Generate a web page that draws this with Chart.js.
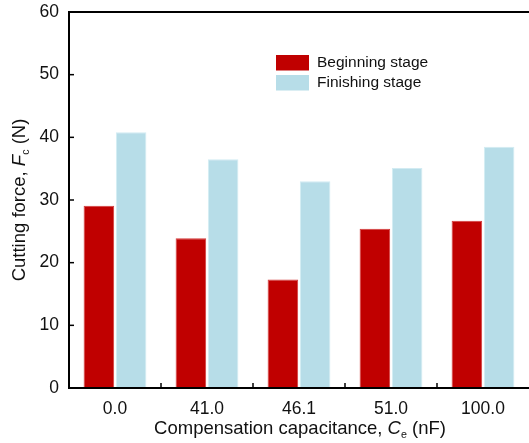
<!DOCTYPE html>
<html>
<head>
<meta charset="utf-8">
<script src="https://cdn.jsdelivr.net/npm/chart.js@4"></script>
<style>
html,body{margin:0;padding:0;background:#fff;}
#wrap{width:529px;height:443px;position:relative;}
</style>
</head>
<body>
<div id="wrap"><canvas id="c" width="529" height="443"></canvas></div>
<script>
const categories = ["0.0", "41.0", "46.1", "51.0", "100.0"];
const beginningStage = [29.1, 23.9, 17.3, 25.4, 26.7];
const finishingStage = [40.8, 36.5, 33.0, 35.1, 38.5];
const yTicks = [0, 10, 20, 30, 40, 50, 60];
const seriesNames = ["Beginning stage", "Finishing stage"];

const FONT = '"Liberation Sans", Arial, sans-serif';

function drawRich(ctx, parts, x, y, size) {
  let total = 0;
  const meas = parts.map(p => {
    const s = p.sub ? size * 0.58 : size;
    ctx.font = (p.italic ? 'italic ' : '') + s + 'px ' + FONT;
    const w = ctx.measureText(p.t).width;
    total += w;
    return {p, s, w};
  });
  let cx = x - total / 2;
  ctx.textBaseline = 'middle';
  ctx.textAlign = 'left';
  meas.forEach(m => {
    ctx.font = (m.p.italic ? 'italic ' : '') + m.s + 'px ' + FONT;
    ctx.fillText(m.p.t, cx, y + (m.p.sub ? size * 0.3 : 0));
    cx += m.w;
  });
}

const decor = {
  id: 'decor',
  afterDraw(chart) {
    const ctx = chart.ctx;
    const ca = chart.chartArea;
    const xs = chart.scales.x, ys = chart.scales.y;
    ctx.save();
    ctx.strokeStyle = '#000';
    ctx.fillStyle = '#000';
    ctx.lineWidth = 2;
    ctx.beginPath();
    ctx.moveTo(ca.right + 2, ca.top);
    ctx.lineTo(ca.left, ca.top);
    ctx.lineTo(ca.left, ca.bottom);
    ctx.lineTo(ca.right + 2, ca.bottom);
    ctx.stroke();
    ctx.lineWidth = 1.5;
    ys.ticks.forEach(t => {
      const py = ys.getPixelForValue(t.value);
      ctx.beginPath();
      ctx.moveTo(ca.left, py);
      ctx.lineTo(ca.left + 5, py);
      ctx.stroke();
    });
    for (let i = 1; i < categories.length; i++) {
      const px = (xs.getPixelForValue(i - 1) + xs.getPixelForValue(i)) / 2;
      ctx.beginPath();
      ctx.moveTo(px, ca.bottom);
      ctx.lineTo(px, ca.bottom - 5);
      ctx.stroke();
    }
    ctx.fillStyle = '#111';
    drawRich(ctx, [
      {t: 'Compensation capacitance, '},
      {t: 'C', italic: true},
      {t: 'e', sub: true},
      {t: ' (nF)'}
    ], 300, 429, 18.5);
    ctx.save();
    ctx.translate(20, 200);
    ctx.rotate(-Math.PI / 2);
    drawRich(ctx, [
      {t: 'Cutting force, '},
      {t: 'F', italic: true},
      {t: 'c', sub: true},
      {t: ' (N)'}
    ], 0, 0, 18.5);
    ctx.restore();
    const lx = 276, ly = 55;
    chart.data.datasets.forEach((ds, i) => {
      const yy = ly + i * 20;
      ctx.fillStyle = ds.backgroundColor;
      ctx.fillRect(lx, yy, 33, 15.5);
      ctx.fillStyle = '#111';
      ctx.font = '15.5px ' + FONT;
      ctx.textBaseline = 'middle';
      ctx.textAlign = 'left';
      ctx.fillText(ds.label, lx + 41, yy + 8);
    });
    ctx.restore();
  }
};

new Chart(document.getElementById('c'), {
  type: 'bar',
  data: {
    labels: categories,
    datasets: [
      {label: seriesNames[0], data: beginningStage, backgroundColor: '#C00000', borderColor: '#D43A3A', borderWidth: 1, categoryPercentage: 0.7, barPercentage: 0.95},
      {label: seriesNames[1], data: finishingStage, backgroundColor: '#B7DDE8', borderColor: '#D2EBF2', borderWidth: 1, categoryPercentage: 0.7, barPercentage: 0.95}
    ]
  },
  options: {
    responsive: false,
    animation: false,
    devicePixelRatio: 1,
    layout: {padding: {top: 12, right: 0, left: 0, bottom: 0}},
    plugins: {legend: {display: false}, tooltip: {enabled: false}},
    scales: {
      x: {
        grid: {display: false, drawTicks: false},
        border: {display: false},
        ticks: {color: '#111', font: {family: FONT, size: 17.5}, padding: 11},
        afterFit(s) { s.height = 55; s.paddingLeft = 0; s.paddingRight = 0; }
      },
      y: {
        min: 0, max: 60,
        afterBuildTicks(s) { s.ticks = yTicks.map(v => ({value: v})); },
        grid: {display: false, drawTicks: false},
        border: {display: false},
        ticks: {color: '#111', font: {family: FONT, size: 17.5}, padding: 10},
        afterFit(s) { s.width = 69; s.paddingTop = 0; s.paddingBottom = 0; }
      }
    }
  },
  plugins: [decor]
});
</script>
</body>
</html>
